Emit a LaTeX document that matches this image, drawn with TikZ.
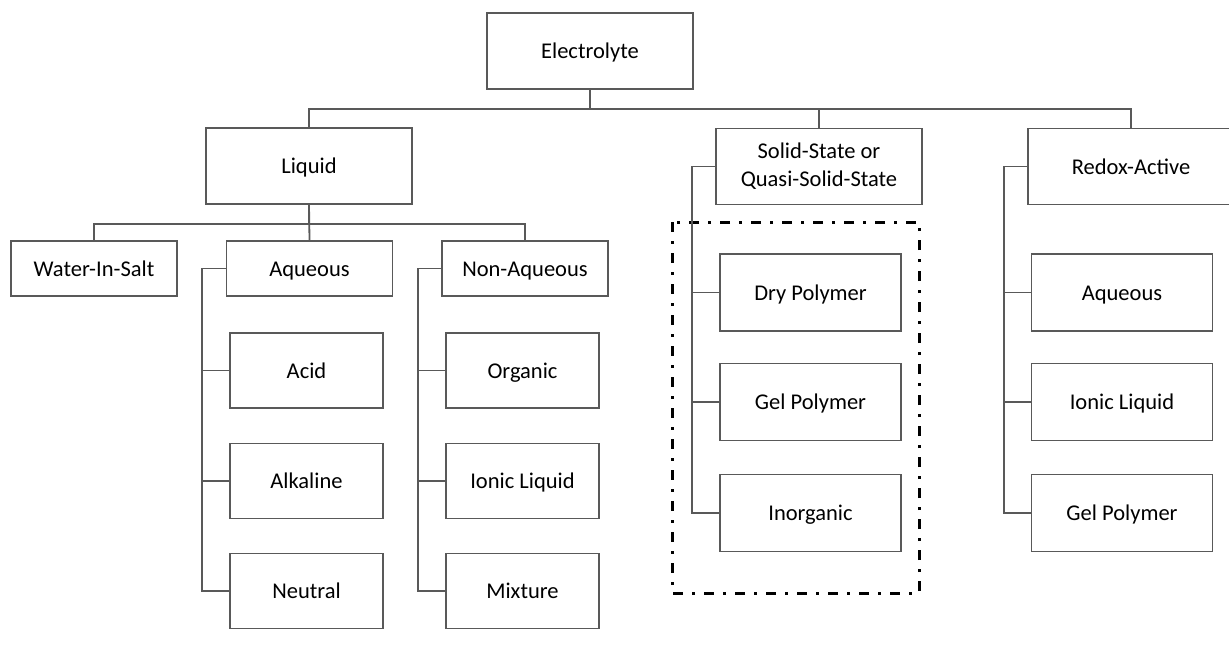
\documentclass[tikz,border=0pt]{standalone}
\usepackage{fontspec}
\setmainfont{Carlito}

\begin{document}
\begin{tikzpicture}[x=1pt, y=-1pt,
    base/.style={draw=black!65, line width=1.8pt, fill=white, inner sep=0pt,
      align=center, font=\fontsize{22.5}{28}\selectfont},
    box/.style={base, text height=20pt, text depth=4.5pt},
    top/.style={box, minimum width=206pt, minimum height=76pt},
    toptwo/.style={base, minimum width=206pt, minimum height=76pt},
    mid/.style={box, minimum width=166pt, minimum height=55pt},
    leaf/.style={box, minimum width=153pt, minimum height=75pt},
    wide/.style={box, minimum width=181pt, minimum height=77pt},
    link/.style={draw=black!65, line width=1.8pt},
    group/.style={draw=black, line width=3pt, dash pattern=on 10pt off 9pt on 3pt off 9pt}]
      \useasboundingbox (0, 0) rectangle (1229, 661);

      \draw [group] (672, 222) rectangle (919, 593);

      \node [top] (elec) at (590, 51) {Electrolyte};
      \node [top] (liquid) at (309, 166) {Liquid};
      \node [toptwo] (solid) at (819, 166.5) {Solid-State or\\Quasi-Solid-State};
      \node [top] (redox) at (1131, 166.5) {Redox-Active};

      \node [mid] (wis) at (94, 268.5) {Water-In-Salt};
      \node [mid] (aq) at (309.5, 268.5) {Aqueous};
      \node [mid] (naq) at (525, 268.5) {Non-Aqueous};

      \node [leaf] (acid) at (306.5, 370.5) {Acid};
      \node [leaf] (alk) at (306.5, 481) {Alkaline};
      \node [leaf] (neut) at (306.5, 591) {Neutral};

      \node [leaf] (org) at (522.5, 370.5) {Organic};
      \node [leaf] (il) at (522.5, 481) {Ionic Liquid};
      \node [leaf] (mix) at (522.5, 591) {Mixture};

      \node [wide] (dry) at (810.5, 292.5) {Dry Polymer};
      \node [wide] (gel) at (810.5, 402) {Gel Polymer};
      \node [wide] (inorg) at (810.5, 513) {Inorganic};

      \node [wide] (raq) at (1122, 292.5) {Aqueous};
      \node [wide] (ril) at (1122, 402) {Ionic Liquid};
      \node [wide] (rgel) at (1122, 513) {Gel Polymer};

      \draw [link] (elec.south) -- ++(0, 19) -| (liquid.north);
      \draw [link] (elec.south) -- ++(0, 19) -| (solid.north);
      \draw [link] (elec.south) -- ++(0, 19) -| (redox.north);

      \draw [link] (liquid.south) -- ++(0, 19) -| (wis.north);
      \draw [link] (liquid.south) -- (aq.north);
      \draw [link] (liquid.south) -- ++(0, 19) -| (naq.north);

      \draw [link] (aq.west) -- ++(-24, 0) |- (acid.west);
      \draw [link] (aq.west) -- ++(-24, 0) |- (alk.west);
      \draw [link] (aq.west) -- ++(-24, 0) |- (neut.west);

      \draw [link] (naq.west) -- ++(-23, 0) |- (org.west);
      \draw [link] (naq.west) -- ++(-23, 0) |- (il.west);
      \draw [link] (naq.west) -- ++(-23, 0) |- (mix.west);

      \draw [link] (solid.west) -- ++(-23, 0) |- (dry.west);
      \draw [link] (solid.west) -- ++(-23, 0) |- (gel.west);
      \draw [link] (solid.west) -- ++(-23, 0) |- (inorg.west);

      \draw [link] (redox.west) -- ++(-23, 0) |- (raq.west);
      \draw [link] (redox.west) -- ++(-23, 0) |- (ril.west);
      \draw [link] (redox.west) -- ++(-23, 0) |- (rgel.west);
    \end{tikzpicture}
\end{document}
